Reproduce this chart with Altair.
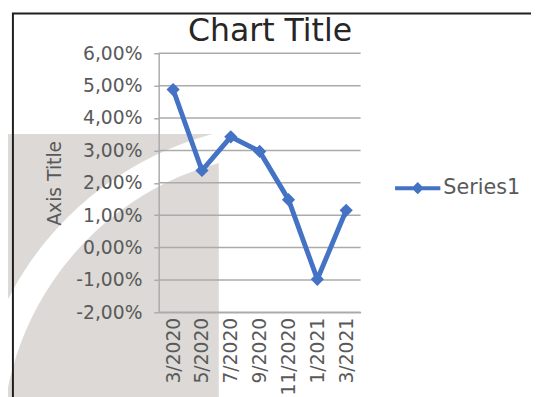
import altair as alt
import pandas as pd

# ---- data ----
months = ["3/2020", "5/2020", "7/2020", "9/2020", "11/2020", "1/2021", "3/2021"]
values = [0.0488, 0.0238, 0.0342, 0.0297, 0.0148, -0.0098, 0.0115]
series = ["Series1"] * len(months)
y_ticks = [-0.02, -0.01, 0.0, 0.01, 0.02, 0.03, 0.04, 0.05, 0.06]
chart_title = "Chart Title"
axis_title = "Axis Title"

# ---- styling ----
W, H = 205, 263
FONT = "DejaVu Sans"
BLUE = "#4472C4"
GRID = "#ababab"
LABEL = "#595959"

df = pd.DataFrame({"month": months, "value": values, "series": series})
grid_df = pd.DataFrame({"v": y_ticks})
one = pd.DataFrame({"k": [0]})

y_scale = alt.Scale(domain=[-0.02, 0.06], nice=False, zero=False)
label_expr = "replace(replace(format(datum.value, '.2%'), '.', ','), '\u2212', '-')"

y_axis = alt.Axis(
    title=axis_title, values=y_ticks, labelExpr=label_expr,
    labelFont=FONT, labelFontSize=19, labelColor=LABEL, labelPadding=12,
    tickSize=5, tickColor=GRID, tickWidth=1.5,
    domainColor=GRID, domainWidth=1.5, grid=False, zindex=1,
    titleFont=FONT, titleFontSize=19, titleColor=LABEL, titleFontWeight="normal",
    titleAngle=270, titleX=-106, titleY=H / 2, titleBaseline="middle", titleAlign="center",
)
x_axis = alt.Axis(
    title=None, labelAngle=-90, labelFont=FONT, labelFontSize=19, labelColor=LABEL,
    labelPadding=5, ticks=False, domainColor=GRID, domainWidth=1.5, grid=False, zindex=1,
)

# scanned-page watermark behind the chart
watermark = alt.Chart(one).mark_rect(color="#dcd9d6").encode(
    x=alt.value(-153), x2=alt.value(61), y=alt.value(82), y2=alt.value(360)
)
band = alt.Chart(one).mark_arc(
    color="white", theta=4.75, theta2=6.25, outerRadius=328, innerRadius=298
).encode(x=alt.value(139), y=alt.value(399))

grid = alt.Chart(grid_df).mark_rule(color=GRID, strokeWidth=1.5).encode(
    y=alt.Y("v:Q", scale=y_scale, axis=y_axis)
)

border = alt.Chart(one).mark_rect(fillOpacity=0, stroke="#1e1e1e", strokeWidth=2).encode(
    x=alt.value(-148), x2=alt.value(400), y=alt.value(-40.5), y2=alt.value(400)
)

legend_symbol = "M-1,-0.09L1,-0.09L1,0.09L-1,0.09Z M0,-0.27L0.27,0L0,0.27L-0.27,0Z"
line = alt.Chart(df).mark_line(
    strokeWidth=5,
    point=alt.OverlayMarkDef(shape="diamond", size=180, filled=True),
).encode(
    x=alt.X("month:N", sort=months, scale=alt.Scale(type="point", padding=0.5), axis=x_axis),
    y=alt.Y("value:Q", scale=y_scale, axis=y_axis),
    color=alt.Color(
        "series:N", scale=alt.Scale(range=[BLUE]),
        legend=alt.Legend(
            title=None, orient="none", legendX=240, legendY=114,
            symbolType=legend_symbol, symbolSize=2116,
            symbolFillColor=BLUE, symbolStrokeColor=BLUE, symbolStrokeWidth=0,
            labelFont=FONT, labelFontSize=21, labelColor=LABEL, labelOffset=3, padding=0,
        ),
    ),
)

title = alt.Chart(one).mark_text(
    text=chart_title, font=FONT, fontSize=32, color="#262626",
    align="center", baseline="alphabetic",
).encode(x=alt.value(113), y=alt.value(-12))

chart = alt.layer(watermark, band, grid, border, line, title).properties(
    width=W, height=H,
    padding={"left": 153, "top": 43, "right": 173, "bottom": 83},
    autosize=alt.AutoSizeParams(type="none"),
).configure_view(stroke=None)

chart.save("out.html", embed_options={"renderer": "svg", "actions": False})
